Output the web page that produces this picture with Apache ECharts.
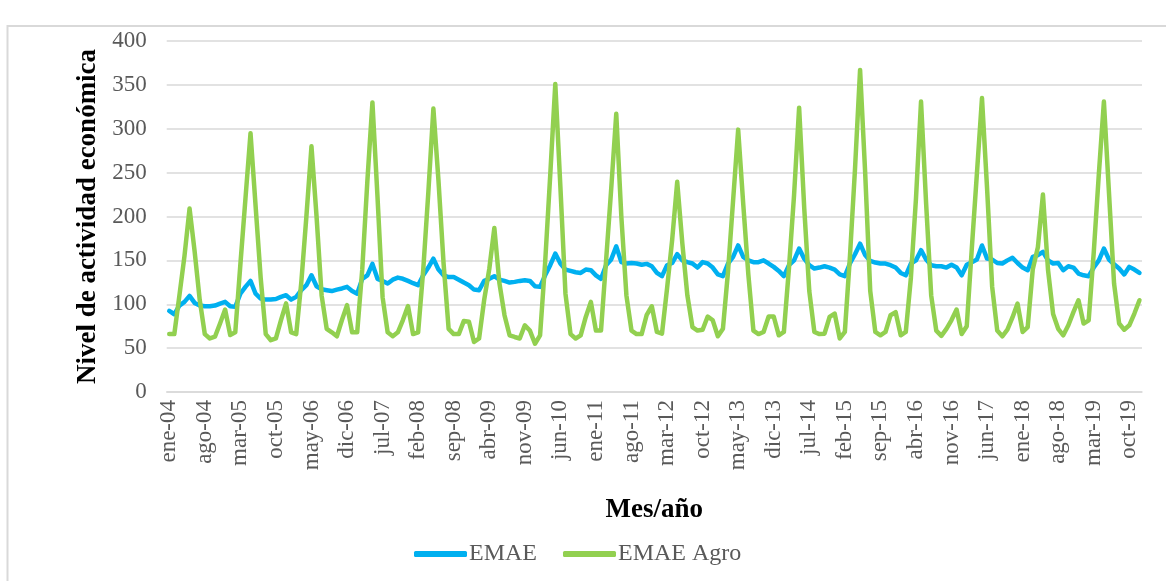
<!DOCTYPE html>
<html>
<head>
<meta charset="utf-8" />
<title>EMAE y EMAE Agro</title>
<script src="https://cdn.jsdelivr.net/npm/echarts@6.0.0/dist/echarts.min.js"></script>
<style>
  html, body { margin: 0; padding: 0; background: #fff; }
  #container { width: 1166px; height: 581px; }
</style>
</head>
<body>
<div id="container"></div>
<script type="text/javascript">
// meses y años del eje
var meses = ['ene', 'feb', 'mar', 'abr', 'may', 'jun', 'jul', 'ago', 'sep', 'oct', 'nov', 'dic'];
var anios = ['04', '05', '06', '07', '08', '09', '10', '11', '12', '13', '14', '15', '16', '17', '18', '19'];

// EMAE (ene-04 ... dic-19)
var emae = [
  92.4, 88.6, 98.5, 102.7, 109.5, 101.5, 98.5, 97.7, 97.7, 98.5, 100.8, 102.7,
  97.7, 97, 112, 119.8, 126.6, 112, 106.5, 105.3, 105.3, 106, 108.4, 110.3,
  105.3, 108.4, 116, 121.7, 133, 120.5, 117, 116, 115, 116.7, 118, 119.8,
  115, 112, 129, 133, 146, 129, 126.6, 123.6, 128, 130.4, 129, 126.6,
  124, 121.7, 133, 141.8, 152, 139.5, 133, 131, 131, 128, 124.7, 121.7,
  116.7, 116, 126.6, 129, 132, 128, 126.6, 124.7, 125.5, 126.6, 127.4, 126.6,
  120.5, 119.8, 133, 144.5, 157.8, 146.4, 139.5, 138, 136.5, 135.7, 139.5, 138.8,
  133, 129, 144.5, 151, 166, 148, 146.4, 147, 146.4, 145, 146, 143.3,
  135.7, 132, 144.5, 147, 157, 150, 148, 146.4, 141.8, 148, 146.4, 141.8,
  134, 132, 146.4, 154, 167, 154, 150, 148, 148, 150, 146.4, 142.6,
  138, 132, 144.5, 150, 163.5, 152, 144.5, 140.7, 141.8, 143.3, 141.8, 139.5,
  134, 132, 146.4, 157, 169, 156, 149.4, 147.5, 146.4, 146.4, 144.5, 141.8,
  135.7, 133, 146.4, 150, 161.6, 151, 144.5, 143.3, 143.3, 141.8, 145, 141.8,
  133, 145, 148, 151, 167, 152, 151, 147, 146.4, 150, 153, 147,
  141.8, 138.8, 154, 156, 159.7, 150, 146.4, 147, 138.8, 143.3, 141.8, 135,
  133, 132, 141.8, 150, 163.5, 151, 145.6, 140.7, 134, 142.6, 139.5, 135.7
];

// EMAE Agro (ene-04 ... dic-19)
var emaeAgro = [
  66, 66, 110, 155, 209, 160, 105, 66, 61, 63, 78, 94,
  65, 68, 145, 220, 295, 212, 130, 66, 59, 61, 82, 101,
  68, 66, 125, 200, 280, 200, 110, 72, 68, 63.5, 82, 99,
  68, 68, 140, 240, 330, 222, 108, 68, 63.5, 68, 82, 98,
  66, 68, 139, 227, 323, 241, 147, 72, 66, 66, 81, 80,
  57, 61, 105, 140, 187, 124, 87.5, 64.6, 62.7, 61, 76, 70,
  55, 64.6, 147.5, 247, 351, 234, 112, 66, 61, 64.6, 85.5, 102.7,
  70, 70, 150, 231, 317, 200, 110, 70, 66, 66, 88, 97.7,
  68.4, 66.5, 118, 173, 239.5, 170, 110, 74, 70, 71, 86, 81.7,
  63.5, 72, 137, 218, 299, 214, 134, 70, 66, 68.4, 86, 86,
  64.6, 68.4, 141, 224, 324, 210, 115, 68.4, 66, 66.5, 85.5, 89.4,
  61, 68.4, 154, 254, 367, 250, 115, 68.4, 64.6, 68.4, 87.5, 91,
  64.6, 68.4, 130, 220, 331, 215, 110, 70, 64, 72, 82, 94,
  66, 75, 164, 249, 335, 232, 120, 70, 63.5, 71, 85, 100.8,
  68.4, 74, 140, 165, 225, 139, 89, 72, 64.6, 76, 91, 104.6,
  78, 81.7, 159, 248, 331, 227, 123.6, 78, 71, 76, 89.4, 104.6
];

var categorias = [];
for (var a = 0; a < anios.length; a++) {
  for (var m = 0; m < meses.length; m++) {
    categorias.push(meses[m] + '-' + anios[a]);
  }
}

var fuente = 'Liberation Serif';
var dom = document.getElementById('container');
var myChart = echarts.init(dom, null, { renderer: 'canvas' });

var option = {
  animation: false,
  backgroundColor: '#ffffff',
  graphic: [{
    type: 'rect',
    shape: { x: 7.5, y: 26, width: 1300, height: 700 },
    style: { fill: 'none', stroke: '#d9d9d9', lineWidth: 2 },
    silent: true
  }],
  legend: {
    left: 409,
    top: 537,
    itemWidth: 53,
    itemHeight: 6,
    itemGap: 26,
    icon: 'roundRect',
    textStyle: { fontFamily: fuente, fontSize: 24, color: '#595959', padding: [0, 0, 0, -3] },
    data: ['EMAE', 'EMAE Agro']
  },
  grid: {
    left: 166.7,
    right: 24,
    top: 41,
    bottom: 189
  },
  xAxis: {
    type: 'category',
    data: categorias,
    boundaryGap: true,
    name: 'Mes/año',
    nameLocation: 'middle',
    nameGap: 105,
    nameTextStyle: { fontFamily: fuente, fontSize: 27, fontWeight: 'bold', color: '#000' },
    axisLine: { lineStyle: { color: '#d9d9d9', width: 1.5 } },
    axisTick: { show: false },
    axisLabel: {
      interval: 6,
      rotate: 90,
      margin: 8,
      fontFamily: fuente,
      fontSize: 23,
      color: '#595959'
    }
  },
  yAxis: {
    type: 'value',
    min: 0,
    max: 400,
    interval: 50,
    name: 'Nivel de actividad económica',
    nameLocation: 'middle',
    nameGap: 64,
    nameTextStyle: { fontFamily: fuente, fontSize: 27, fontWeight: 'bold', color: '#000' },
    axisLine: { show: false },
    axisTick: { show: false },
    axisLabel: { margin: 20, fontFamily: fuente, fontSize: 23, color: '#595959' },
    splitLine: { lineStyle: { color: '#d9d9d9', width: 1.5 } }
  },
  series: [
    {
      name: 'EMAE',
      type: 'line',
      data: emae,
      symbol: 'none',
      color: '#00b0f0',
      lineStyle: { width: 4.5, color: '#00b0f0', cap: 'round', join: 'round' }
    },
    {
      name: 'EMAE Agro',
      type: 'line',
      data: emaeAgro,
      symbol: 'none',
      color: '#92d050',
      lineStyle: { width: 4.5, color: '#92d050', cap: 'round', join: 'round' }
    }
  ]
};

myChart.setOption(option);
window.addEventListener('resize', myChart.resize);
</script>
</body>
</html>
